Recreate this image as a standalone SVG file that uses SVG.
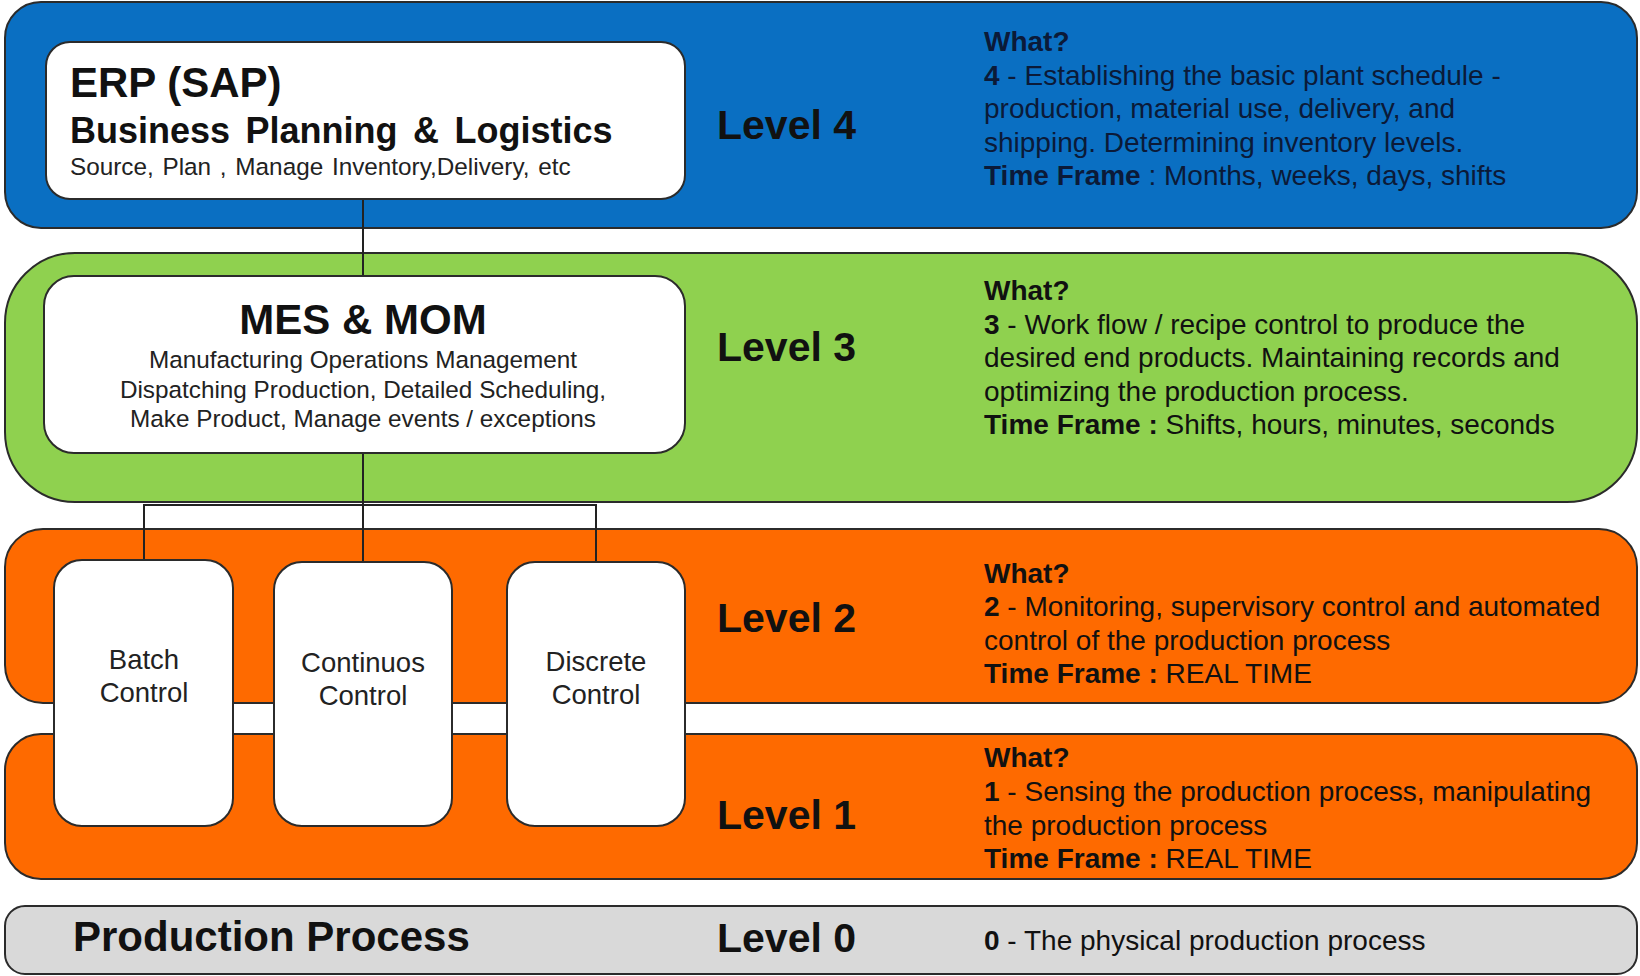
<svg xmlns="http://www.w3.org/2000/svg" width="1640" height="976" viewBox="0 0 1640 976">
<style>
.band{stroke:#2b2b2b;stroke-width:2}
.box{fill:#ffffff;stroke:#2b2b2b;stroke-width:2}
.t{font-family:"Liberation Sans",Arial,sans-serif;fill:#111}
.big{font-size:42px;font-weight:bold}
.lvl{font-size:41px;font-weight:bold}
.d{font-size:28px}
.b{font-weight:bold}
.nv{fill:#0b1a38}
.ctl{font-size:27.5px;text-anchor:middle;fill:#222}
.sub{font-size:24.3px;fill:#222}
.conn{stroke:#222;stroke-width:2;fill:none}
</style>
<rect width="1640" height="976" fill="#ffffff"/>

<g id="level4">
<rect class="band" x="5" y="2" width="1632" height="226" rx="36" fill="#0a6fc2"/>
<text class="t lvl" x="717" y="139">Level 4</text>
<text class="t d nv" x="984" y="51"><tspan class="b">What?</tspan></text>
<text class="t d nv" x="984" y="85"><tspan class="b">4</tspan> - Establishing the basic plant schedule -</text>
<text class="t d nv" x="984" y="118">production, material use, delivery, and</text>
<text class="t d nv" x="984" y="152">shipping. Determining inventory levels.</text>
<text class="t d nv" x="984" y="185"><tspan class="b">Time Frame</tspan> : Months, weeks, days, shifts</text>
</g>

<g id="level3">
<rect class="band" x="5" y="253" width="1632" height="249" rx="70" fill="#8fd14f"/>
<text class="t lvl" x="717" y="361">Level 3</text>
<text class="t d" x="984" y="300"><tspan class="b">What?</tspan></text>
<text class="t d" x="984" y="334"><tspan class="b">3</tspan> - Work flow / recipe control to produce the</text>
<text class="t d" x="984" y="367">desired end products. Maintaining records and</text>
<text class="t d" x="984" y="401">optimizing the production process.</text>
<text class="t d" x="984" y="434"><tspan class="b">Time Frame :</tspan> Shifts, hours, minutes, seconds</text>
</g>

<g id="level2">
<rect class="band" x="5" y="529" width="1632" height="174" rx="38" fill="#fe6a00"/>
<text class="t lvl" x="717" y="632">Level 2</text>
<text class="t d" x="984" y="583"><tspan class="b">What?</tspan></text>
<text class="t d" x="984" y="616"><tspan class="b">2</tspan> - Monitoring, supervisory control and automated</text>
<text class="t d" x="984" y="650">control of the production process</text>
<text class="t d" x="984" y="683"><tspan class="b">Time Frame :</tspan> REAL TIME</text>
</g>

<g id="level1">
<rect class="band" x="5" y="734" width="1632" height="145" rx="36" fill="#fe6a00"/>
<text class="t lvl" x="717" y="829">Level 1</text>
<text class="t d" x="984" y="767"><tspan class="b">What?</tspan></text>
<text class="t d" x="984" y="801"><tspan class="b">1</tspan> - Sensing the production process, manipulating</text>
<text class="t d" x="984" y="835">the production process</text>
<text class="t d" x="984" y="868"><tspan class="b">Time Frame :</tspan> REAL TIME</text>
</g>

<g id="level0">
<rect class="band" x="5" y="906" width="1632" height="68" rx="20" fill="#d9d9d9"/>
<text class="t big" x="73" y="951">Production Process</text>
<text class="t lvl" x="717" y="952">Level 0</text>
<text class="t d" x="984" y="950"><tspan class="b">0</tspan> - The physical production process</text>
</g>

<g id="connectors">
<line class="conn" x1="363" y1="199" x2="363" y2="276"/>
<line class="conn" x1="363" y1="453" x2="363" y2="562"/>
<polyline class="conn" points="144,560 144,505 596,505 596,562"/>
</g>

<g id="erp">
<rect class="box" x="46" y="42" width="639" height="157" rx="24"/>
<text class="t big" x="70" y="97">ERP (SAP)</text>
<text class="t" x="70" y="143" font-size="36" font-weight="bold" word-spacing="5.5">Business Planning &amp; Logistics</text>
<text class="t sub" x="70" y="175" word-spacing="2">Source, Plan , Manage Inventory,Delivery, etc</text>
</g>

<g id="mes">
<rect class="box" x="44" y="276" width="641" height="177" rx="30"/>
<text class="t big" x="363" y="334" text-anchor="middle">MES &amp; MOM</text>
<text class="t sub" x="363" y="368" text-anchor="middle">Manufacturing Operations Management</text>
<text class="t sub" x="363" y="398" text-anchor="middle">Dispatching Production, Detailed Scheduling,</text>
<text class="t sub" x="363" y="427" text-anchor="middle">Make Product, Manage events / exceptions</text>
</g>

<g id="batch">
<rect class="box" x="54" y="560" width="179" height="266" rx="28"/>
<text class="t ctl" x="144" y="669">Batch</text>
<text class="t ctl" x="144" y="702">Control</text>
</g>

<g id="continuos">
<rect class="box" x="274" y="562" width="178" height="264" rx="28"/>
<text class="t ctl" x="363" y="672">Continuos</text>
<text class="t ctl" x="363" y="705">Control</text>
</g>

<g id="discrete">
<rect class="box" x="507" y="562" width="178" height="264" rx="28"/>
<text class="t ctl" x="596" y="671">Discrete</text>
<text class="t ctl" x="596" y="704">Control</text>
</g>
</svg>
